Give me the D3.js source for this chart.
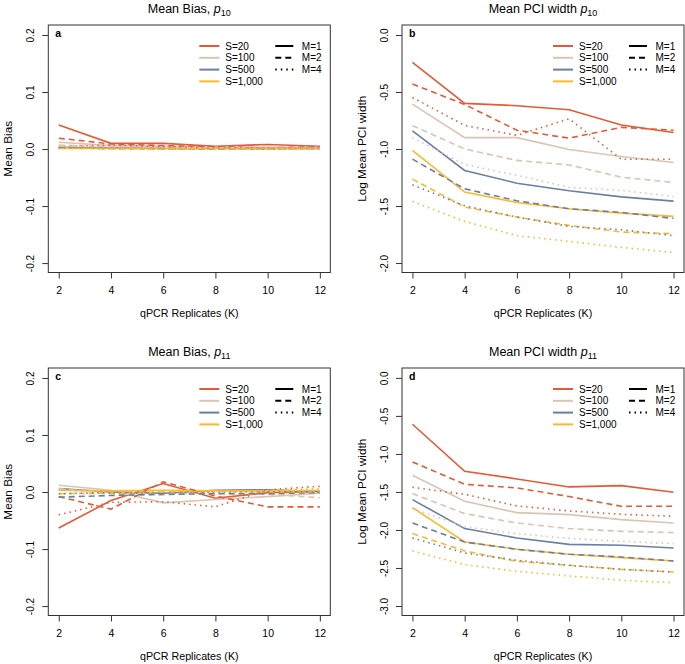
<!DOCTYPE html>
<html>
  <head>
    <meta charset="utf-8">
    <title>Mean Bias and PCI width</title>
    <script src="https://d3js.org/d3.v7.min.js"></script>
    <style>
      body { margin: 0; background: #fff; }
      text { font-family: "Liberation Sans", Arial, sans-serif; fill: #000; }
      .axis .domain { display: none; }
      .axis .tick line { stroke: #333; }
      .axis--x .tick text { font-size: 10.5px; }
      .axis--y .tick text { font-size: 10px; }
      .axis__label { text-anchor: middle; }
      .legend text { font-size: 10px; }
    </style>
  </head>
  <body>
    <svg width="685" height="664"></svg>
    <script>
      const kValues = [2, 4, 6, 8, 10, 12];
      const sLabels = ["S=20", "S=100", "S=500", "S=1,000"];
      const mLabels = ["M=1", "M=2", "M=4"];
      const sColors = ["#e35b35", "#d9c5b3", "#6b7fa1", "#fdb82c"];
      const mDashes = [null, "6,4", "1.5,4"];

      // [S][M][K]
      const biasP10 = [
        [[0.042, 0.010, 0.010, 0.005, 0.008, 0.005], [0.019, 0.009, 0.006, 0.004, 0.002, 0.004], [0.004, 0.007, 0.004, 0.003, 0.002, 0.003]],
        [[0.012, 0.006, 0.005, 0.003, 0.003, 0.003], [0.007, 0.004, 0.003, 0.002, 0.002, 0.002], [0.005, 0.003, 0.002, 0.001, 0.001, 0.002]],
        [[0.003, 0.002, 0.001, 0.001, 0.001, 0.001], [0.002, 0.001, 0.001, 0.000, 0.001, 0.001], [0.002, 0.001, 0.001, 0.001, 0.000, 0.001]],
        [[0.002, 0.001, 0.001, 0.001, 0.001, 0.001], [0.001, 0.001, 0.000, 0.001, 0.000, 0.001], [0.001, 0.001, 0.001, 0.000, 0.001, 0.000]]
      ];
      const widthP10 = [
        [[-0.24, -0.60, -0.62, -0.655, -0.79, -0.855], [-0.43, -0.61, -0.835, -0.905, -0.81, -0.835], [-0.548, -0.793, -0.88, -0.735, -1.09, -1.09]],
        [[-0.607, -0.90, -0.90, -1.005, -1.066, -1.118], [-0.794, -1.0, -1.10, -1.14, -1.247, -1.293], [-0.90, -1.136, -1.23, -1.337, -1.363, -1.416]],
        [[-0.84, -1.188, -1.30, -1.366, -1.42, -1.457], [-1.089, -1.349, -1.454, -1.524, -1.556, -1.609], [-1.314, -1.498, -1.597, -1.679, -1.708, -1.76]],
        [[-1.013, -1.378, -1.469, -1.524, -1.562, -1.591], [-1.264, -1.509, -1.597, -1.67, -1.728, -1.743], [-1.46, -1.635, -1.76, -1.81, -1.863, -1.907]]
      ];
      const biasP11 = [
        [[-0.063, -0.015, 0.015, -0.011, -0.001, 0.001], [-0.008, -0.030, 0.018, -0.007, -0.026, -0.026], [-0.040, -0.018, -0.017, -0.026, 0.004, 0.010]],
        [[0.012, 0.003, -0.019, -0.013, -0.008, -0.002], [0.006, -0.003, -0.005, -0.002, -0.004, -0.010], [0.003, 0.000, -0.003, 0.000, 0.002, 0.002]],
        [[0.006, 0.000, -0.002, 0.003, 0.004, 0.001], [-0.009, -0.006, -0.004, -0.003, -0.003, -0.001], [-0.003, -0.001, -0.002, 0.000, 0.001, 0.000]],
        [[0.003, 0.002, 0.003, 0.002, 0.002, 0.003], [-0.003, -0.002, 0.000, 0.001, 0.000, 0.000], [0.004, 0.002, 0.002, 0.001, 0.003, 0.006]]
      ];
      const widthP11 = [
        [[-0.61, -1.228, -1.329, -1.434, -1.417, -1.504], [-1.105, -1.399, -1.447, -1.561, -1.689, -1.689], [-1.439, -1.531, -1.684, -1.75, -1.794, -1.82]],
        [[-1.28, -1.623, -1.772, -1.798, -1.864, -1.908], [-1.522, -1.785, -1.908, -1.982, -2.018, -2.035], [-1.72, -1.956, -2.05, -2.11, -2.15, -2.18]],
        [[-1.601, -1.982, -2.105, -2.189, -2.202, -2.237], [-1.908, -2.158, -2.254, -2.32, -2.355, -2.408], [-2.105, -2.303, -2.399, -2.465, -2.518, -2.553]],
        [[-1.706, -2.158, -2.254, -2.32, -2.364, -2.408], [-2.048, -2.276, -2.412, -2.465, -2.518, -2.553], [-2.276, -2.456, -2.544, -2.605, -2.662, -2.693]]
      ];

      const biasTicks = [-0.2, -0.1, 0, 0.1, 0.2];
      const widthP10Ticks = [-2.0, -1.5, -1.0, -0.5, 0.0];
      const widthP11Ticks = [-3.0, -2.5, -2.0, -1.5, -1.0, -0.5, 0.0];

      function panel(selection, props){
        const x0 = props.x;
        const y0 = props.y;
        const w = props.width;
        const h = props.height;

        const g = selection.append("g")
          .attr("transform", `translate(${x0}, ${y0})`);

        const xScale = d3.scaleLinear()
          .domain([1.6, 12.4])
          .range([0, w]);

        const yScale = d3.scaleLinear()
          .domain(props.yDomain)
          .range([h, 0]);

        // title with italic p and subscript
        const title = g.append("text")
          .attr("x", w / 2)
          .attr("y", -12.5)
          .attr("text-anchor", "middle")
          .style("font-size", "12.5px");
        title.append("tspan").text(props.title);
        title.append("tspan").style("font-style", "italic").text("p");
        title.append("tspan")
          .attr("dy", 3)
          .style("font-size", "9px")
          .text(props.sub);

        const xAxis = d3.axisBottom(xScale)
          .tickValues(kValues)
          .tickSizeInner(6)
          .tickSizeOuter(0)
          .tickPadding(8);
        g.append("g")
          .attr("class", "axis axis--x")
          .attr("transform", `translate(0, ${h})`)
          .call(xAxis);

        g.append("text")
          .attr("class", "axis__label")
          .attr("x", w / 2)
          .attr("y", h + 44)
          .style("font-size", "10.7px")
          .text("qPCR Replicates (K)");

        const yAxis = d3.axisLeft(yScale)
          .tickValues(props.yTicks)
          .tickFormat(d => d.toFixed(1))
          .tickSizeInner(6)
          .tickSizeOuter(0);
        const ya = g.append("g")
          .attr("class", "axis axis--y")
          .call(yAxis);
        ya.selectAll(".tick text")
          .attr("transform", "rotate(-90)")
          .attr("text-anchor", "middle")
          .attr("x", 0)
          .attr("y", -14.5)
          .attr("dy", 0);

        g.append("text")
          .attr("class", "axis__label")
          .attr("transform", "rotate(-90)")
          .attr("x", -h / 2)
          .attr("y", -36)
          .style("font-size", "11.8px")
          .text(props.yLabel);

        const line = d3.line()
          .x((d, i) => xScale(kValues[i]))
          .y(d => yScale(d));

        // draw by M then S so later line types sit on top
        const series = [];
        mLabels.forEach((m, mi) => {
          sLabels.forEach((s, si) => {
            series.push({ values: props.data[si][mi], si, mi });
          });
        });

        g.append("g")
          .selectAll("path")
          .data(series)
          .join("path")
            .attr("d", d => line(d.values))
            .attr("fill", "none")
            .attr("stroke", d => sColors[d.si])
            .attr("stroke-width", 1.6)
            .attr("stroke-dasharray", d => mDashes[d.mi]);

        g.append("rect")
          .attr("width", w)
          .attr("height", h)
          .attr("fill", "none")
          .attr("stroke", "#333")
          .attr("stroke-width", 1);

        g.append("text")
          .attr("x", 7)
          .attr("y", 12)
          .style("font-size", "10.5px")
          .style("font-weight", "bold")
          .text(props.tag);

        // legend
        const lg = g.append("g")
          .attr("class", "legend")
          .attr("transform", `translate(${w}, 21)`);

        const sRow = lg.selectAll(".legend--s")
          .data(sLabels)
          .join("g")
            .attr("class", "legend--s")
            .attr("transform", (d, i) => `translate(0, ${i * 11.8})`);
        sRow.append("line")
          .attr("x1", -131).attr("x2", -111)
          .attr("stroke", (d, i) => sColors[i])
          .attr("stroke-width", 2);
        sRow.append("text")
          .attr("x", -105)
          .attr("dy", "0.35em")
          .text(d => d);

        const mRow = lg.selectAll(".legend--m")
          .data(mLabels)
          .join("g")
            .attr("class", "legend--m")
            .attr("transform", (d, i) => `translate(0, ${i * 11.8})`);
        mRow.append("line")
          .attr("x1", -55).attr("x2", -37)
          .attr("stroke", "#000")
          .attr("stroke-width", 2)
          .attr("stroke-dasharray", (d, i) => mDashes[i]);
        mRow.append("text")
          .attr("x", -28.5)
          .attr("dy", "0.35em")
          .text(d => d);
      }

      function main(){
        const svg = d3.select("svg");
        const w = 282;
        const h = 247.5;

        svg
          .call(panel, {
            x: 48.3, y: 25, width: w, height: h, tag: "a",
            title: "Mean Bias, ", sub: "10", yLabel: "Mean Bias",
            yDomain: [-0.2165, 0.2175], yTicks: biasTicks, data: biasP10
          })
          .call(panel, {
            x: 402, y: 25, width: w, height: h, tag: "b",
            title: "Mean PCI width ", sub: "10", yLabel: "Log Mean PCI width",
            yDomain: [-2.083, 0.0875], yTicks: widthP10Ticks, data: widthP10
          })
          .call(panel, {
            x: 48.3, y: 368, width: w, height: h, tag: "c",
            title: "Mean Bias, ", sub: "11", yLabel: "Mean Bias",
            yDomain: [-0.2165, 0.2175], yTicks: biasTicks, data: biasP11
          })
          .call(panel, {
            x: 402, y: 368, width: w, height: h, tag: "d",
            title: "Mean PCI width ", sub: "11", yLabel: "Log Mean PCI width",
            yDomain: [-3.125, 0.13], yTicks: widthP11Ticks, data: widthP11
          });
      }
      main();
    </script>
  </body>
</html>
